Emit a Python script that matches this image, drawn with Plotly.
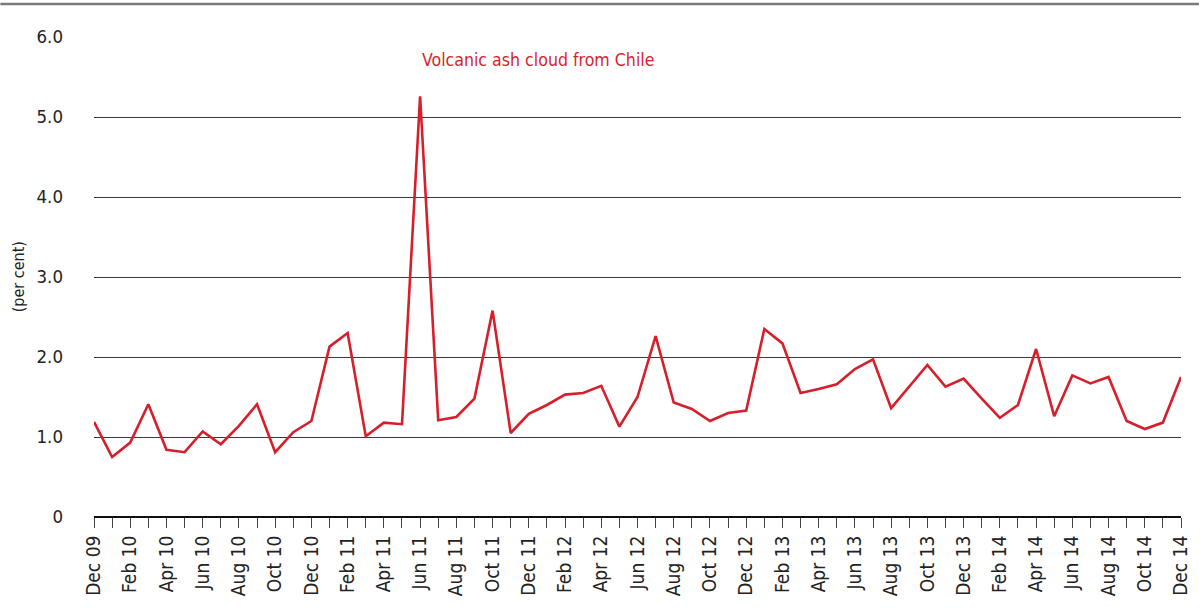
import plotly.graph_objects as go

MONTHS = ["Jan", "Feb", "Mar", "Apr", "May", "Jun",
          "Jul", "Aug", "Sep", "Oct", "Nov", "Dec"]

# Dec 09 .. Dec 14, monthly
months = ["Dec 09"] + [f"{m} {y:02d}" for y in range(10, 15) for m in MONTHS]

values = [
    1.19, 0.75, 0.93, 1.41, 0.84, 0.81, 1.07, 0.91, 1.14, 1.41,
    0.81, 1.06, 1.20, 2.13, 2.30, 1.01, 1.18, 1.16, 5.26, 1.21,
    1.25, 1.48, 2.58, 1.05, 1.29, 1.40, 1.53, 1.55, 1.64, 1.13,
    1.50, 2.26, 1.43, 1.35, 1.20, 1.30, 1.33, 2.35, 2.17, 1.55,
    1.60, 1.66, 1.85, 1.97, 1.36, 1.63, 1.90, 1.63, 1.73, 1.48,
    1.24, 1.40, 2.10, 1.26, 1.77, 1.67, 1.75, 1.20, 1.10, 1.18,
    1.75,
]

y_ticks = [0, 1, 2, 3, 4, 5, 6]
y_labels = ["0", "1.0", "2.0", "3.0", "4.0", "5.0", "6.0"]

note_text = "Volcanic ash cloud from Chile"
note_month = "Jun 11"
note_y = 5.71

RED = "#d71f2b"
FONT = "DejaVu Sans Condensed, Roboto, Arial, sans-serif"

tick_text = [m if i % 2 == 0 else "" for i, m in enumerate(months)]

fig = go.Figure()
fig.add_trace(
    go.Scatter(
        x=months,
        y=values,
        mode="lines",
        line=dict(color=RED, width=2.6),
        showlegend=False,
    )
)

fig.add_annotation(
    x=note_month,
    y=note_y,
    text=note_text,
    showarrow=False,
    xanchor="left",
    yanchor="middle",
    font=dict(color=RED, size=17.6, family=FONT),
)

# y-axis title, drawn as a rotated note left of the tick labels
fig.add_annotation(
    xref="paper",
    yref="paper",
    x=-76 / 1091,
    y=0.5,
    xanchor="center",
    yanchor="middle",
    text="(per cent)",
    textangle=-90,
    showarrow=False,
    font=dict(color="#222", size=16, family=FONT),
)

# grey rule across the top of the figure
fig.add_shape(
    type="line",
    xref="paper",
    yref="paper",
    x0=-94 / 1091,
    x1=1109 / 1091,
    y0=1 + 33 / 480,
    y1=1 + 33 / 480,
    line=dict(color="#7a7a7a", width=2.5),
)

fig.update_layout(
    width=1203,
    height=608,
    margin=dict(l=94, r=18, t=37, b=91),
    plot_bgcolor="white",
    paper_bgcolor="white",
    font=dict(family=FONT, size=18, color="#222"),
    xaxis=dict(
        type="category",
        range=[0, len(months) - 1],
        tickmode="array",
        tickvals=months,
        ticktext=tick_text,
        tickangle=-90,
        ticks="outside",
        ticklen=10,
        tickcolor="#444",
        tickfont=dict(size=19),
        showgrid=False,
        showline=False,
        zeroline=False,
    ),
    yaxis=dict(
        range=[0, 6],
        tickmode="array",
        tickvals=y_ticks,
        ticktext=y_labels,
        tickfont=dict(size=18.5),
        showgrid=True,
        gridcolor="#3a3a3a",
        gridwidth=1,
        zeroline=True,
        zerolinecolor="#111",
        zerolinewidth=1.5,
        ticklabelstandoff=30,
        showline=False,
    ),
)

fig.write_html(
    "out.html",
    config={"displayModeBar": False},
    post_script="document.body.style.margin = '0'; document.body.style.overflow = 'hidden';",
)
